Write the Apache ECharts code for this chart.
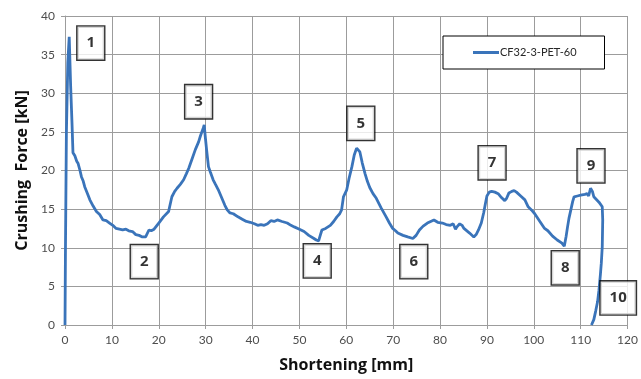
<!DOCTYPE html>
<html>
<head>
<meta charset="utf-8">
<script src="https://cdn.jsdelivr.net/npm/echarts@6/dist/echarts.min.js"></script>
<style>
  html, body { margin: 0; padding: 0; background: #fff; }
  #chart { width: 641px; height: 379px; }
</style>
</head>
<body>
<div id="chart"></div>
<script>
// shortening [mm]
var shortening = [
  0, 0.1, 0.3, 0.6, 0.9, 1.2, 1.5, 1.7, 2.1, 2.5, 2.8, 3.2, 3.5, 3.9, 4.2, 4.8, 5.3, 6.0, 6.7, 7.4,
  8.1, 8.8, 9.5, 10.2, 10.9, 11.6, 12.3, 13.0, 13.6, 14.4, 15.1, 15.8, 16.5, 17.2, 17.6, 17.9, 18.4, 19.0, 19.5, 20.0,
  21.0, 22.1, 22.5, 22.8, 23.4, 23.9, 24.6, 25.3, 25.9, 26.4, 27.1, 27.8, 28.5, 28.9, 29.5, 29.7, 29.9, 30.2, 30.6, 31.0,
  31.6, 32.1, 32.7, 33.4, 34.1, 34.6, 35.2, 35.9, 36.9, 37.8, 38.7, 39.5, 40.4, 41.1, 41.8, 42.5, 43.2, 43.9, 44.6, 45.3,
  46.3, 47.4, 48.2, 48.9, 50.0, 51.0, 52.0, 53.1, 53.6, 54.1, 54.4, 54.8, 55.6, 56.6, 57.3, 58.0, 58.6, 59.0, 59.4, 60.1,
  60.6, 61.2, 61.7, 62.2, 62.6, 62.9, 63.4, 64.0, 64.5, 65.0, 65.7, 66.4, 67.4, 68.5, 69.2, 69.9, 70.5, 71.0, 72.1, 73.1,
  74.2, 74.9, 75.6, 76.4, 77.3, 78.0, 78.7, 79.5, 80.5, 81.3, 82.2, 82.8, 83.3, 83.6, 84.2, 84.7, 85.1, 85.4, 86.3, 87.2,
  87.7, 88.2, 88.8, 89.3, 89.7, 90.0, 90.5, 91.0, 91.7, 92.4, 93.1, 93.8, 94.2, 94.7, 95.3, 95.8, 96.3, 97.2, 98.1, 98.8,
  99.5, 100.2, 101.3, 102.3, 103.0, 104.0, 105.0, 106.0, 106.5, 106.9, 107.2, 107.5, 107.9, 108.3, 108.6, 109.3, 110.0, 110.4, 110.9, 111.4,
  111.7, 112.1, 112.5, 112.8, 113.2, 113.9, 114.6, 114.7, 114.6, 114.4, 114.2, 113.9, 113.6, 113.2, 112.8, 112.3
];
// crushing force [kN]
var force = [
  0, 10, 25, 34, 37.3, 31, 26, 22.3, 21.9, 21.2, 20.9, 20.0, 19.2, 18.6, 17.9, 17.0, 16.2, 15.4, 14.7, 14.3,
  13.6, 13.5, 13.2, 12.9, 12.5, 12.4, 12.3, 12.4, 12.2, 12.1, 11.7, 11.6, 11.4, 11.4, 11.6, 12.3, 12.2, 12.4, 12.8, 13.2,
  14.0, 14.7, 15.8, 16.6, 17.3, 17.7, 18.2, 18.8, 19.6, 20.3, 21.5, 22.7, 23.7, 24.5, 25.5, 25.9, 24.5, 22.7, 20.5, 19.8,
  18.8, 18.2, 17.5, 16.5, 15.5, 14.9, 14.5, 14.4, 14.0, 13.7, 13.4, 13.3, 13.1, 12.9, 13.0, 12.9, 13.1, 13.5, 13.4, 13.6,
  13.4, 13.2, 12.9, 12.7, 12.4, 12.1, 11.6, 11.2, 11.0, 10.9, 11.5, 12.3, 12.5, 12.9, 13.4, 14.0, 14.4, 14.9, 16.6, 17.5,
  19.0, 20.5, 22.0, 22.9, 22.8, 22.4, 21.0, 19.6, 18.6, 17.8, 17.0, 16.4, 15.2, 14.0, 13.2, 12.5, 12.2, 11.9, 11.6, 11.4,
  11.2, 11.6, 12.3, 12.8, 13.2, 13.4, 13.6, 13.3, 13.2, 13.0, 12.9, 13.1, 12.4, 12.7, 13.1, 12.9, 12.5, 12.3, 11.9, 11.4,
  11.7, 12.3, 13.2, 14.5, 15.8, 16.7, 17.2, 17.3, 17.2, 17.0, 16.5, 16.1, 16.4, 17.1, 17.3, 17.4, 17.2, 16.7, 16.2, 15.3,
  14.9, 14.4, 13.4, 12.5, 12.2, 11.5, 11.0, 10.6, 10.2, 11.5, 12.7, 13.8, 14.9, 16.0, 16.6, 16.7, 16.8, 16.6, 16.9, 17.0,
  16.7, 17.7, 17.3, 16.6, 16.5, 15.9, 15.3, 13.6, 10.1, 8.0, 6.5, 4.5, 3.0, 1.8, 0.7, 0
];
// numbered callouts (placed in data units)
var markNames = ['1', '2', '3', '4', '5', '6', '7', '8', '9', '10'];
var markX = [5.5, 16.9, 28.5, 53.8, 63.1, 74.4, 91.1, 106.7, 112.2, 118.0];
var markY = [36.5, 8.2, 28.9, 8.3, 26.1, 8.2, 21.0, 7.4, 20.6, 3.5];

var xTicks = [0, 120, 10];
var yTicks = [0, 40, 5];

var curve = shortening.map(function (x, i) { return [x, force[i]]; });
var marks = markNames.map(function (n, i) { return [markX[i], markY[i], n]; });

var chart = echarts.init(document.getElementById('chart'));
var gridColor = '#9c9c9c';

var option = {
  backgroundColor: '#fff',
  animation: false,
  grid: { left: 65, right: 7, top: 16, bottom: 54 },
  legend: {
    data: ['CF32-3-PET-60'],
    left: 443,
    top: 36,
    icon: 'rect',
    itemWidth: 26,
    itemHeight: 3,
    itemGap: 0,
    padding: [11, 28, 11, 30],
    backgroundColor: '#fff',
    borderColor: '#000',
    borderWidth: 1,
    textStyle: { fontFamily: 'Lato', fontSize: 11, color: '#262626', padding: [0, 0, 0, -4] }
  },
  xAxis: {
    type: 'value',
    min: xTicks[0], max: xTicks[1], interval: xTicks[2],
    name: 'Shortening [mm]',
    nameLocation: 'middle',
    nameGap: 32,
    nameTextStyle: { fontFamily: 'Open Sans', fontWeight: 'bold', fontSize: 16, color: '#111' },
    axisLine: { show: true, onZero: false, lineStyle: { color: gridColor } },
    axisTick: { show: true, length: 4, lineStyle: { color: gridColor } },
    axisLabel: { fontFamily: 'Lato', fontSize: 12, color: '#4d4d4d', margin: 9 },
    splitLine: { show: true, lineStyle: { color: gridColor, width: 1 } }
  },
  yAxis: {
    type: 'value',
    min: yTicks[0], max: yTicks[1], interval: yTicks[2],
    name: 'Crushing  Force [kN]',
    nameLocation: 'middle',
    nameGap: 33,
    nameTextStyle: { fontFamily: 'Open Sans', fontWeight: 'bold', fontSize: 16, color: '#111' },
    axisLine: { show: true, lineStyle: { color: gridColor } },
    axisTick: { show: true, length: 4, lineStyle: { color: gridColor } },
    axisLabel: { fontFamily: 'Lato', fontSize: 12, color: '#4d4d4d', margin: 10 },
    splitLine: { show: true, lineStyle: { color: gridColor, width: 1 } }
  },
  series: [
    {
      name: 'CF32-3-PET-60',
      type: 'line',
      data: curve,
      showSymbol: false,
      symbol: 'none',
      itemStyle: { color: '#3a74ba' },
      lineStyle: { color: '#3a74ba', width: 2.8 },
      z: 3
    },
    {
      name: 'marks',
      type: 'scatter',
      data: marks,
      symbolSize: 0,
      z: 5,
      silent: true,
      clip: false,
      label: {
        show: true,
        position: 'inside',
        formatter: function (p) { return p.data[2]; },
        fontFamily: 'Open Sans',
        fontWeight: 'bold',
        fontSize: 15,
        color: '#000',
        backgroundColor: '#fff',
        borderColor: '#000',
        borderWidth: 1.4,
        padding: [8, 9, 8, 9],
        lineHeight: 17
      }
    }
  ]
};

chart.setOption(option);
</script>
</body>
</html>
